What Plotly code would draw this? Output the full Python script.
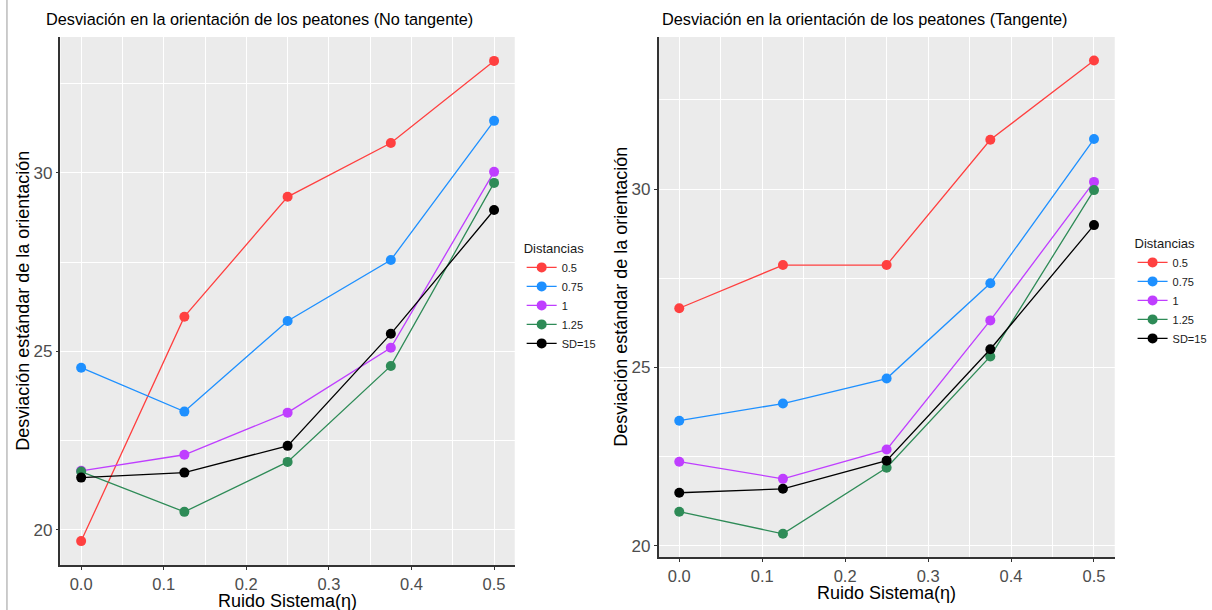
import plotly.graph_objects as go

# Noise levels of the system (eta)
ruido = [0.0, 0.125, 0.25, 0.375, 0.5]

series_names = ["0.5", "0.75", "1", "1.25", "SD=15"]
series_colors = ["#FF4040", "#1E90FF", "#BF3EFF", "#2E8B57", "#000000"]

# Standard deviation of orientation, non-tangent model
no_tangente = {
    "0.5":   [19.68, 25.97, 29.33, 30.84, 33.14],
    "0.75":  [24.54, 23.31, 25.85, 27.56, 31.46],
    "1":     [21.65, 22.10, 23.28, 25.10, 30.03],
    "1.25":  [21.63, 20.50, 21.90, 24.59, 29.72],
    "SD=15": [21.46, 21.60, 22.35, 25.49, 28.96],
}

# Standard deviation of orientation, tangent model
tangente = {
    "0.5":   [26.66, 27.87, 27.87, 31.38, 33.60],
    "0.75":  [23.51, 23.99, 24.69, 27.36, 31.40],
    "1":     [22.36, 21.88, 22.70, 26.32, 30.20],
    "1.25":  [20.96, 20.34, 22.19, 25.31, 29.97],
    "SD=15": [21.49, 21.60, 22.39, 25.51, 28.99],
}

x_ticks = [0.0, 0.1, 0.2, 0.3, 0.4, 0.5]
y_ticks = [20, 25, 30]

W, H = 1212, 610
PANEL_BG = "#EBEBEB"
TICK_COLOR = "#4D4D4D"
FONT = "Liberation Sans, Arial, sans-serif"

fig = go.Figure()

for name, color in zip(series_names, series_colors):
    fig.add_trace(go.Scatter(
        x=ruido, y=no_tangente[name], name=name, mode="lines+markers",
        line=dict(color=color, width=1.3), marker=dict(color=color, size=10),
        xaxis="x", yaxis="y", legend="legend",
    ))
for name, color in zip(series_names, series_colors):
    fig.add_trace(go.Scatter(
        x=ruido, y=tangente[name], name=name, mode="lines+markers",
        line=dict(color=color, width=1.3), marker=dict(color=color, size=10),
        xaxis="x2", yaxis="y2", legend="legend2",
    ))


def xaxis_style(domain, anchor):
    return dict(
        domain=domain, anchor=anchor, range=[-0.025, 0.525],
        tickvals=x_ticks, tickformat=".1f",
        tickfont=dict(family=FONT, size=16.5, color=TICK_COLOR),
        ticks="outside", ticklen=3, tickcolor="#333333", tickwidth=1,
        showline=True, linecolor="#333333", linewidth=1.5,
        showgrid=True, gridcolor="white", gridwidth=1.2,
        minor=dict(dtick=0.05, tick0=0.05, showgrid=True, gridcolor="white", gridwidth=0.5),
        zeroline=False,
    )


def yaxis_style(domain, anchor, rng):
    return dict(
        domain=domain, anchor=anchor, range=rng,
        tickvals=y_ticks,
        tickfont=dict(family=FONT, size=17, color=TICK_COLOR),
        ticks="outside", ticklen=3, tickcolor="#333333", tickwidth=1,
        showline=True, linecolor="#333333", linewidth=1.5,
        showgrid=True, gridcolor="white", gridwidth=1.2,
        minor=dict(dtick=2.5, tick0=22.5, showgrid=True, gridcolor="white", gridwidth=0.5),
        zeroline=False,
    )


left_x = [61 / W, 519 / W]
left_y = [1 - 565 / H, 1 - 37 / H]
right_x = [664 / W, 1124 / W]
right_y = [1 - 557 / H, 1 - 37 / H]

legend_common = dict(
    font=dict(family=FONT, size=11, color="#1A1A1A"),
    title=dict(text="Distancias", font=dict(family=FONT, size=13, color="#1A1A1A")),
    bgcolor="white", borderwidth=0, itemwidth=30, tracegroupgap=0,
    xanchor="left", yanchor="top", xref="paper", yref="paper",
)

fig.update_layout(
    width=W, height=H,
    margin=dict(l=0, r=0, t=0, b=0),
    paper_bgcolor="white",
    plot_bgcolor=PANEL_BG,
    font=dict(family=FONT),
    xaxis=xaxis_style(left_x, "y"),
    yaxis=yaxis_style(left_y, "x", [19.01, 33.81]),
    xaxis2=xaxis_style(right_x, "y2"),
    yaxis2=yaxis_style(right_y, "x2", [19.69, 34.26]),
    legend=dict(x=526 / W, y=1 - 236 / H, **legend_common),
    legend2=dict(x=1142 / W, y=1 - 231 / H, **legend_common),
    showlegend=True,
)

annotations = [
    dict(text="Desviación en la orientación de los peatones (No tangente)",
         x=44 / W, y=1 - 19 / H, xanchor="left", yanchor="middle",
         font=dict(family=FONT, size=16.3, color="black")),
    dict(text="Desviación en la orientación de los peatones (Tangente)",
         x=665 / W, y=1 - 19 / H, xanchor="left", yanchor="middle",
         font=dict(family=FONT, size=16.3, color="black")),
    dict(text="Ruido Sistema(η)", x=(61 + 519) / 2 / W, y=1 - 601 / H,
         xanchor="center", yanchor="middle",
         font=dict(family=FONT, size=18, color="black")),
    dict(text="Ruido Sistema(η)", x=(664 + 1124) / 2 / W, y=1 - 593 / H,
         xanchor="center", yanchor="middle",
         font=dict(family=FONT, size=18, color="black")),
    dict(text="Desviación estándar de la orientación", x=23 / W, y=1 - 301 / H,
         xanchor="center", yanchor="middle", textangle=-90,
         font=dict(family=FONT, size=18, color="black")),
    dict(text="Desviación estándar de la orientación", x=626 / W, y=1 - 297 / H,
         xanchor="center", yanchor="middle", textangle=-90,
         font=dict(family=FONT, size=18, color="black")),
]
for a in annotations:
    a.update(xref="paper", yref="paper", showarrow=False)
fig.update_layout(annotations=annotations)

# thin gray frame line along the left edge of the page
fig.add_shape(type="line", xref="paper", yref="paper",
              x0=7 / W, x1=7 / W, y0=0, y1=1,
              line=dict(color="#BBBBBB", width=1.5))

fig.write_html("out.html")
